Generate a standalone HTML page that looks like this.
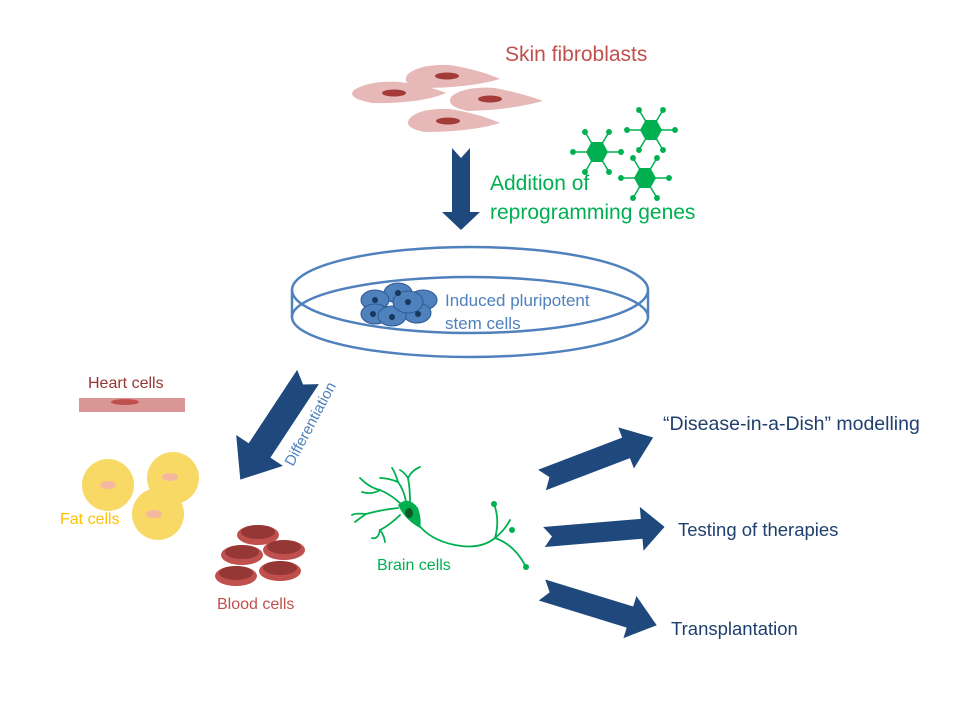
<!DOCTYPE html>
<html><head><meta charset="utf-8"><style>
html,body{margin:0;padding:0;background:#fff}
svg{display:block}
text{font-family:"Liberation Sans",sans-serif}
</style></head><body>
<svg width="960" height="720" viewBox="0 0 960 720" xmlns="http://www.w3.org/2000/svg">
<!-- Fibroblasts -->
<g fill="#e6b9b8">
<path d="M408,74 Q420,64 450,65 Q480,70 500,79 Q470,88 420,88 Q400,84 408,74Z"/>
<path d="M354,90 Q370,80 400,82 Q430,86 446,93 Q420,104 372,103 Q346,98 354,90Z"/>
<path d="M452,96 Q465,86 495,88 Q525,94 543,101 Q510,110 468,111 Q444,106 452,96Z"/>
<path d="M410,118 Q420,108 450,109 Q480,114 500,123 Q470,132 425,132 Q402,128 410,118Z"/>
</g>
<g fill="#a33b39">
<ellipse cx="447" cy="76" rx="12" ry="3.5"/>
<ellipse cx="394" cy="93" rx="12" ry="3.5"/>
<ellipse cx="490" cy="99" rx="12" ry="3.5"/>
<ellipse cx="448" cy="121" rx="12" ry="3.5"/>
</g>
<text x="505" y="61" font-size="21" fill="#c0504d">Skin fibroblasts</text>
<!-- genes -->
<g stroke="#00b050" stroke-width="1.5" fill="#00b050">
<g transform="translate(597,152)">
<line x1="-24" y1="0" x2="24" y2="0"/><line x1="-12" y1="-20" x2="12" y2="20"/><line x1="12" y1="-20" x2="-12" y2="20"/>
<polygon points="-11,0 -5.5,-10 5.5,-10 11,0 5.5,10 -5.5,10" stroke="none"/>
<circle cx="-24" cy="0" r="2.2"/><circle cx="24" cy="0" r="2.2"/><circle cx="-12" cy="-20" r="2.2"/><circle cx="12" cy="20" r="2.2"/><circle cx="12" cy="-20" r="2.2"/><circle cx="-12" cy="20" r="2.2"/>
</g>
<g transform="translate(651,130)">
<line x1="-24" y1="0" x2="24" y2="0"/><line x1="-12" y1="-20" x2="12" y2="20"/><line x1="12" y1="-20" x2="-12" y2="20"/>
<polygon points="-11,0 -5.5,-10 5.5,-10 11,0 5.5,10 -5.5,10" stroke="none"/>
<circle cx="-24" cy="0" r="2.2"/><circle cx="24" cy="0" r="2.2"/><circle cx="-12" cy="-20" r="2.2"/><circle cx="12" cy="20" r="2.2"/><circle cx="12" cy="-20" r="2.2"/><circle cx="-12" cy="20" r="2.2"/>
</g>
<g transform="translate(645,178)">
<line x1="-24" y1="0" x2="24" y2="0"/><line x1="-12" y1="-20" x2="12" y2="20"/><line x1="12" y1="-20" x2="-12" y2="20"/>
<polygon points="-11,0 -5.5,-10 5.5,-10 11,0 5.5,10 -5.5,10" stroke="none"/>
<circle cx="-24" cy="0" r="2.2"/><circle cx="24" cy="0" r="2.2"/><circle cx="-12" cy="-20" r="2.2"/><circle cx="12" cy="20" r="2.2"/><circle cx="12" cy="-20" r="2.2"/><circle cx="-12" cy="20" r="2.2"/>
</g>
</g>
<text x="490" y="190" font-size="21" fill="#00b050">Addition of</text>
<text x="490" y="219" font-size="21" fill="#00b050">reprogramming genes</text>
<!-- arrows -->
<g fill="#1f497d">
<polygon points="452,148 461,158 470,148 470,212 480,212 461,230 442,212 452,212"/>
<g transform="translate(308,377) rotate(123.4)">
<polygon points="0,-13 88,-13 88,-28 123,0 88,28 88,13 0,13 9,0"/>
</g>
<g transform="translate(542,480) rotate(-20.9)">
<polygon points="0,-11 90,-11 90,-22 119,0 90,22 90,11 0,11 8,0"/>
</g>
<g transform="translate(544,537) rotate(-4.8)">
<polygon points="0,-10 98,-10 98,-22 121,0 98,22 98,10 0,10 8,0"/>
</g>
<g transform="translate(542,590) rotate(17.1)">
<polygon points="0,-11 92,-11 92,-22 120,0 92,22 92,11 0,11 8,0"/>
</g>
</g>
<!-- dish -->
<g fill="none" stroke="#4f81bd" stroke-width="2.5">
<ellipse cx="470" cy="290" rx="178" ry="43"/>
<ellipse cx="470" cy="317" rx="178" ry="40"/>
<line x1="292" y1="290" x2="292" y2="317"/><line x1="648" y1="290" x2="648" y2="317"/>
</g>
<g fill="#4f81bd" stroke="#2c5a94" stroke-width="1">
<ellipse cx="398" cy="293" rx="14" ry="10"/>
<ellipse cx="375" cy="300" rx="14" ry="10"/>
<ellipse cx="423" cy="300" rx="14" ry="10"/>
<ellipse cx="375" cy="314" rx="14" ry="10"/>
<ellipse cx="417" cy="313" rx="14" ry="10"/>
<ellipse cx="392" cy="316" rx="14" ry="10"/>
<ellipse cx="408" cy="302" rx="15" ry="11"/>
</g>
<g fill="#17375e">
<circle cx="398" cy="293" r="3"/><circle cx="375" cy="300" r="3"/><circle cx="408" cy="302" r="3"/><circle cx="373" cy="314" r="3"/><circle cx="392" cy="317" r="3"/><circle cx="418" cy="314" r="3"/>
</g>
<text x="445" y="306" font-size="17" fill="#4f81bd">Induced pluripotent</text>
<text x="445" y="329" font-size="17" fill="#4f81bd">stem cells</text>
<!-- differentiation label -->
<text transform="translate(293,467) rotate(-62)" font-size="15" fill="#4f81bd">Differentiation</text>
<!-- heart -->
<text x="88" y="388" font-size="16" fill="#943634">Heart cells</text>
<rect x="79" y="398" width="106" height="14" fill="#da9694"/>
<ellipse cx="125" cy="402" rx="14" ry="3" fill="#c0504d"/>
<!-- fat -->
<g fill="#f9d966"><circle cx="108" cy="485" r="26"/><circle cx="173" cy="478" r="26"/><circle cx="158" cy="514" r="26"/></g>
<g fill="#f4b8a0"><ellipse cx="108" cy="485" rx="8" ry="4"/><ellipse cx="170" cy="477" rx="8" ry="4"/><ellipse cx="154" cy="514" rx="8" ry="4"/></g>
<text x="60" y="524" font-size="16" fill="#ffc000">Fat cells</text>
<!-- blood -->
<g>
<ellipse cx="258" cy="535" rx="21" ry="10" fill="#c0504d"/><ellipse cx="258" cy="532" rx="17" ry="7" fill="#953735"/>
<ellipse cx="242" cy="555" rx="21" ry="10" fill="#c0504d"/><ellipse cx="242" cy="552" rx="17" ry="7" fill="#953735"/>
<ellipse cx="284" cy="550" rx="21" ry="10" fill="#c0504d"/><ellipse cx="284" cy="547" rx="17" ry="7" fill="#953735"/>
<ellipse cx="236" cy="576" rx="21" ry="10" fill="#c0504d"/><ellipse cx="236" cy="573" rx="17" ry="7" fill="#953735"/>
<ellipse cx="280" cy="571" rx="21" ry="10" fill="#c0504d"/><ellipse cx="280" cy="568" rx="17" ry="7" fill="#953735"/>
</g>
<text x="217" y="609" font-size="16" fill="#c0504d">Blood cells</text>
<!-- neuron -->
<g stroke="#00b050" stroke-width="1.8" fill="none" stroke-linecap="round">
<path d="M402,505 Q392,495 380,490 Q370,488 360,478"/>
<path d="M380,490 Q372,495 362,492"/>
<path d="M398,508 Q380,510 366,514 Q355,513 352,515"/>
<path d="M366,514 Q360,518 355,522"/>
<path d="M400,515 Q390,525 380,530 Q378,540 372,538"/>
<path d="M380,530 Q384,535 385,542"/>
<path d="M406,502 Q404,490 398,482 Q395,472 392,468"/>
<path d="M398,482 Q388,478 380,478"/>
<path d="M410,502 Q410,488 408,478 Q412,470 420,467"/>
<path d="M408,478 Q404,472 400,470"/>
<path d="M418,524 Q430,540 455,545 Q480,550 495,538 Q505,530 510,520"/>
<path d="M495,538 Q500,520 494,504"/>
<path d="M495,538 Q515,545 526,567"/>
</g>
<g fill="#00b050"><circle cx="494" cy="504" r="3"/><circle cx="512" cy="530" r="3"/><circle cx="526" cy="567" r="3"/></g>
<path d="M398,505 Q408,495 418,508 Q422,520 420,528 Q405,520 398,505Z" fill="#00b050"/>
<ellipse cx="409" cy="513" rx="4" ry="5" fill="#0a5a22"/>
<text x="377" y="570" font-size="16" fill="#00b050">Brain cells</text>
<!-- right labels -->
<text x="663" y="430" font-size="19.5" fill="#1f3f6e">“Disease-in-a-Dish”  modelling</text>
<text x="678" y="536" font-size="18.5" fill="#1f3f6e">Testing of therapies</text>
<text x="671" y="635" font-size="18.5" fill="#1f3f6e">Transplantation</text>
</svg>
</body></html>
